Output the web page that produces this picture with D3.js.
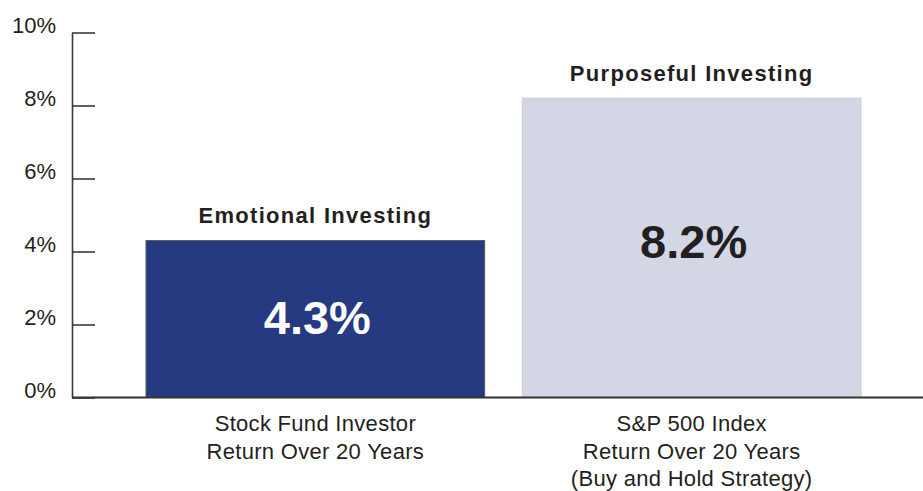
<!DOCTYPE html>
<html>
<head>
<meta charset="utf-8">
<script src="https://cdn.jsdelivr.net/npm/d3@7"></script>
<style>
  body { margin: 0; background: #fff; }
  svg { display: block; font-family: "Liberation Sans", Arial, Helvetica, sans-serif; }
</style>
</head>
<body>
<svg width="923" height="491"></svg>
<script>
// chart values
const categories = ['Stock Fund Investor', 'S&P 500 Index'];
const categoryLines = [
  ['Stock Fund Investor', 'Return Over 20 Years'],
  ['S&P 500 Index', 'Return Over 20 Years', '(Buy and Hold Strategy)']
];
const returns = [4.3, 8.2];
const barTitles = ['Emotional Investing', 'Purposeful Investing'];
const yTicks = [0, 2, 4, 6, 8, 10];

const ink = '#231f20';
const barFill = ['#253a80', '#d3d7e5'];
const valueFill = ['#ffffff', ink];

let svg = d3.select('svg');

let y = d3.scaleLinear().domain([0, 10]).range([397.5, 32.5]);
let x = d3.scaleBand().domain(categories).range([146, 861]).paddingInner(0.1).paddingOuter(0);

// y axis: ticks pointing right, labels on the left
let yAxis = d3.axisLeft(y)
  .tickValues(yTicks)
  .tickSizeInner(-23)
  .tickSizeOuter(0)
  .tickPadding(16)
  .tickFormat(d => d + '%');

let axisG = svg.append('g').attr('transform', 'translate(72,0)').call(yAxis);
axisG.select('.domain').attr('stroke', '#3a3a3a').attr('stroke-width', 1.6);
axisG.selectAll('.tick line').attr('stroke', '#3a3a3a').attr('stroke-width', 1.6);
axisG.selectAll('.tick text')
  .attr('fill', ink)
  .attr('font-size', 22)
  .attr('dy', '0.02em')
  .style('font-family', '"Liberation Sans", Arial, sans-serif');

// bars
let bars = svg.append('g').selectAll('g.bar')
  .data(categories)
  .join('g')
  .attr('class', 'bar');

bars.append('rect')
  .attr('x', d => x(d))
  .attr('y', (d, i) => y(returns[i]))
  .attr('width', x.bandwidth())
  .attr('height', (d, i) => y(0) - y(returns[i]))
  .attr('fill', (d, i) => barFill[i])
  .attr('stroke', (d, i) => i === 0 ? '#5a5a5a' : '#c9ccd6')
  .attr('stroke-width', 1);

// titles above bars
bars.append('text')
  .attr('x', d => x(d) + x.bandwidth() / 2)
  .attr('y', (d, i) => y(returns[i]) - 17.5)
  .attr('text-anchor', 'middle')
  .attr('font-size', 22)
  .attr('font-weight', 'bold')
  .attr('letter-spacing', 1.3)
  .attr('fill', ink)
  .text((d, i) => barTitles[i]);

// values inside bars
bars.append('text')
  .attr('x', d => x(d) + x.bandwidth() / 2 + 2)
  .attr('y', (d, i) => (y(returns[i]) + y(0)) / 2 + 15 - i * 5)
  .attr('text-anchor', 'middle')
  .attr('font-size', 47)
  .attr('font-weight', 'bold')
  .attr('fill', (d, i) => valueFill[i])
  .text((d, i) => returns[i].toFixed(1) + '%');

// baseline
svg.append('line')
  .attr('x1', 72).attr('x2', 923)
  .attr('y1', y(0)).attr('y2', y(0))
  .attr('stroke', '#333')
  .attr('stroke-width', 2);

// category labels
let labels = svg.append('g').selectAll('text.cat')
  .data(categories)
  .join('text')
  .attr('class', 'cat')
  .attr('text-anchor', 'middle')
  .attr('font-size', 22)
  .attr('letter-spacing', 0.3)
  .attr('fill', ink);

labels.each(function (d, i) {
  d3.select(this).selectAll('tspan')
    .data(categoryLines[i])
    .join('tspan')
    .attr('x', x(d) + x.bandwidth() / 2)
    .attr('y', (t, j) => 431 + j * 27.5)
    .text(t => t);
});
</script>
</body>
</html>
